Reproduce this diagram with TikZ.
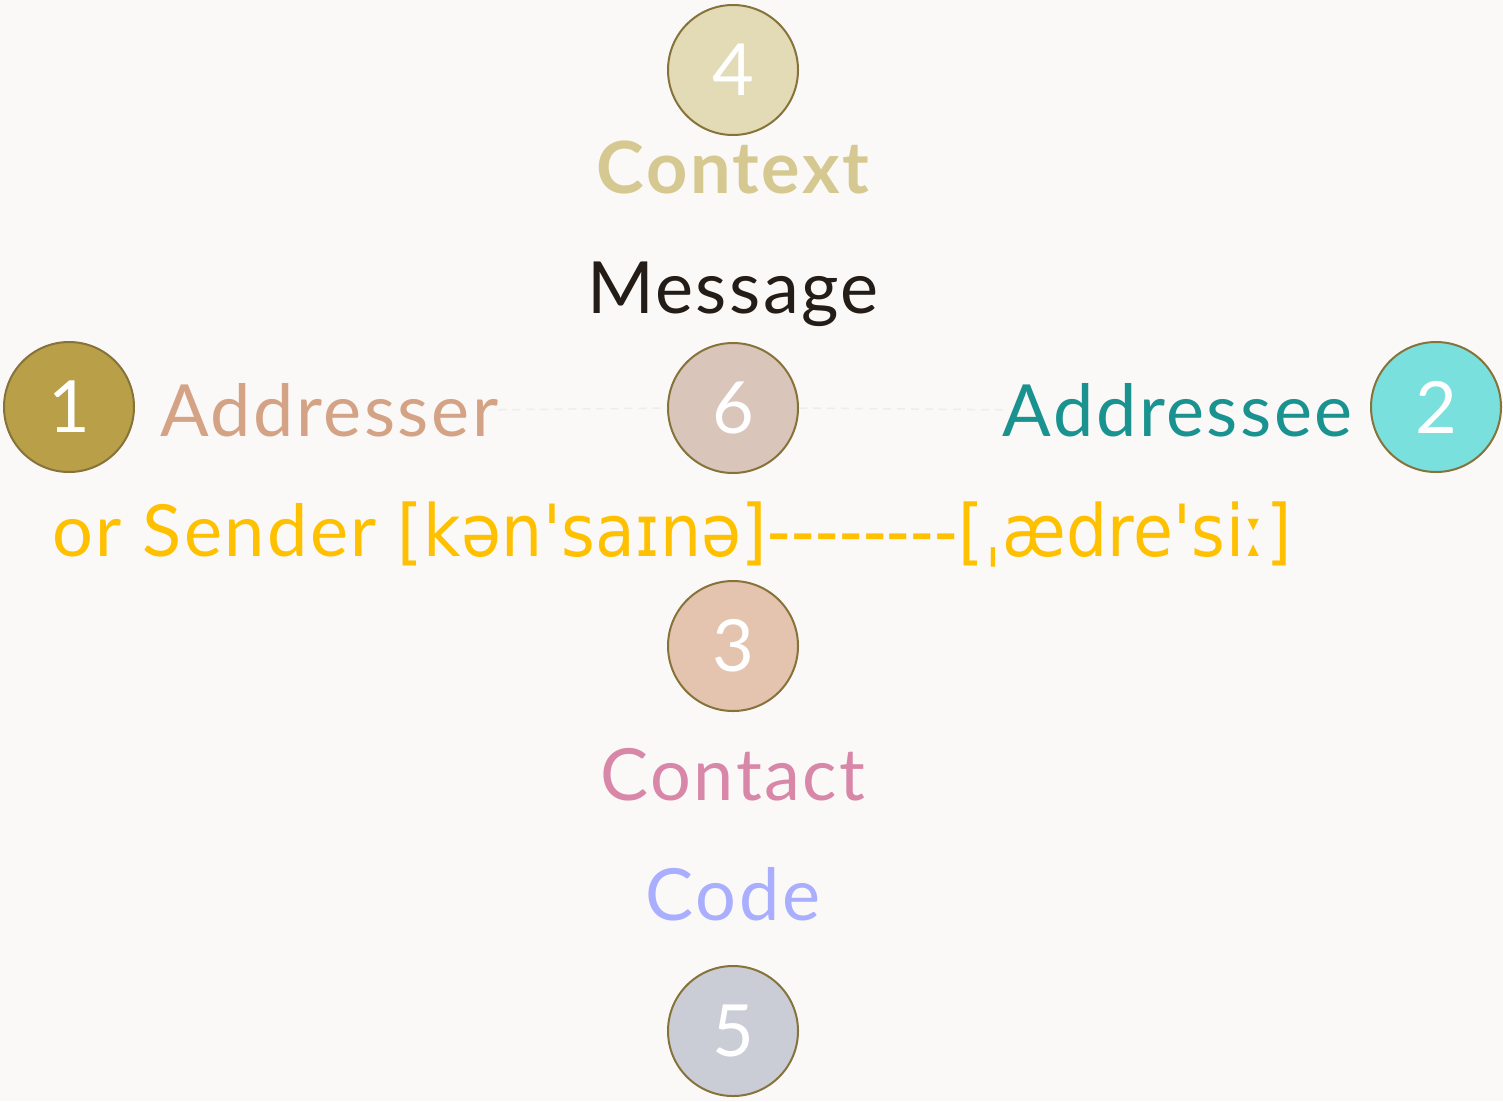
\documentclass[tikz,border=0pt]{standalone}
\usepackage{fontspec}
\setmainfont{Lato}[LetterSpace=3.5]
\newfontfamily\ipafont{DejaVu Sans Condensed}[LetterSpace=0.6]

\definecolor{bgcol}{HTML}{FBF9F8}
\definecolor{ringcol}{HTML}{85733A}
\definecolor{dashcol}{HTML}{EFEDEB}
\definecolor{fillone}{HTML}{B89F48}
\definecolor{filltwo}{HTML}{7AE0DD}
\definecolor{fillthree}{HTML}{E5C4AF}
\definecolor{fillfour}{HTML}{E3DAB6}
\definecolor{fillfive}{HTML}{CBCDD6}
\definecolor{fillsix}{HTML}{D9C5B9}
\definecolor{contextcol}{HTML}{D6C891}
\definecolor{messagecol}{HTML}{231C17}
\definecolor{addressercol}{HTML}{D4A385}
\definecolor{addresseecol}{HTML}{1A9390}
\definecolor{sendercol}{HTML}{FFC000}
\definecolor{contactcol}{HTML}{D887A8}
\definecolor{codecol}{HTML}{AAAEFE}

\begin{document}
\begin{tikzpicture}[x=1pt,y=-1pt,
  numcircle/.style={draw=ringcol, line width=2pt, circle, minimum size=130pt,
    inner sep=0pt, text=white, font=\fontsize{72}{72}\selectfont},
  label/.style={anchor=base, inner sep=0pt, font=\fontsize{72}{72}\selectfont},
  faintline/.style={draw=dashcol, line width=1.5pt, dash pattern=on 8pt off 6pt}]
\fill[bgcol] (0,0) rectangle (1503,1101);
\useasboundingbox (0,0) rectangle (1503,1101);

% circles
\node[numcircle, fill=fillfour] (n4) at (733,70) {4};
\node[numcircle, fill=fillone] (n1) at (69,407) {1};
\node[numcircle, fill=fillsix] (n6) at (733,408) {6};
\node[numcircle, fill=filltwo] (n2) at (1436,407) {2};
\node[numcircle, fill=fillthree] (n3) at (733,646) {3};
\node[numcircle, fill=fillfive] (n5) at (733,1031) {5};

% labels
\node[label, text=contextcol, font=\fontsize{72}{72}\selectfont\bfseries] (context) at (733,193) {Context};
\node[label, text=messagecol] (message) at (733,313) {Message};
\node[label, anchor=base west, text=addressercol] (addresser) at (160,436) {Addresser};
\node[label, anchor=base east, text=addresseecol] (addressee) at (1353,436) {Addressee};
\node[label, anchor=base west, text=sendercol] (sender) at (52,556)
  {or Sender {\ipafont[kən'saɪnə]--------[ˌædre'siː]}};
\node[label, text=contactcol] (contact) at (733,800) {Contact};
\node[label, text=codecol] (code) at (733,920) {Code};

% faint links
\draw[faintline] (addresser.east) -- (n6.west);
\draw[faintline] (n6.east) -- (addressee.west);
\end{tikzpicture}
\end{document}
